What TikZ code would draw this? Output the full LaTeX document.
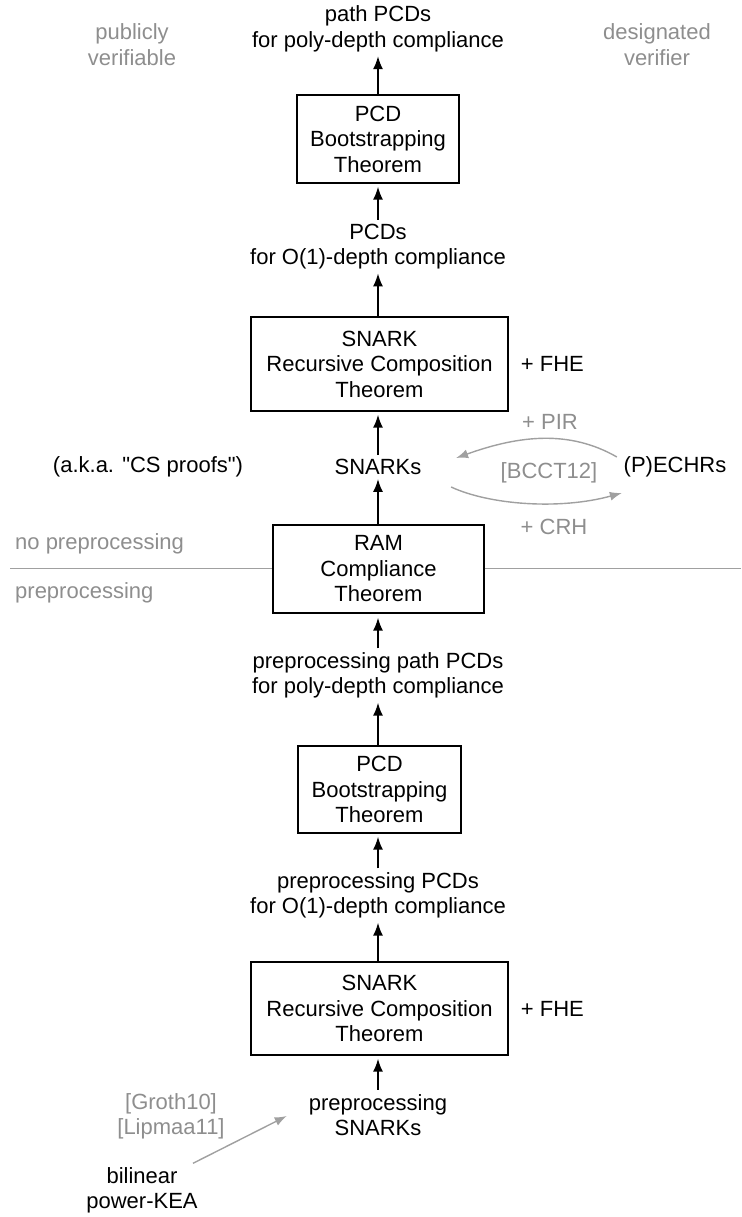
\documentclass[tikz,border=0pt]{standalone}
\usepackage{fontspec}
\setmainfont{Liberation Sans}
\newfontfamily\straightqt{Liberation Sans}
\usetikzlibrary{arrows.meta,positioning}
\definecolor{notegray}{HTML}{8E8E8E}
\definecolor{rulegray}{HTML}{A0A0A0}

\tikzset{
  thm/.style={draw,line width=1.4pt,align=center,inner sep=0pt},
  res/.style={align=center,inner sep=4pt},
  note/.style={align=center,inner sep=4pt,text=notegray},
  up/.style={line width=1.6pt,-{Latex[length=13pt,width=10pt]}},
  gup/.style={line width=1.4pt,draw=rulegray,-{Latex[length=12pt,width=9pt]}}
}

\begin{document}
\begin{tikzpicture}[x=1pt,y=-1pt,font=\fontsize{22}{25.5}\selectfont]
  \useasboundingbox (0,0) rectangle (741,1217);

  % column headings
  \node[note] (pub) at (132,44.5) {publicly\\verifiable};
  \node[note] (desig) at (657,44.5) {designated\\verifier};

  % no preprocessing half
  \node[res] (top) at (378,29) {path PCDs\\for poly-depth compliance};
  \node[thm,minimum width=162pt,minimum height=88pt] (boot) at (378,139)
    {PCD\\Bootstrapping\\Theorem};
  \node[res] (pcd) at (378,246.5) {PCDs\\for O(1)-depth compliance};
  \node[thm,minimum width=257pt,minimum height=94pt] (rec) at (379.5,364)
    {SNARK\\Recursive Composition\\Theorem};
  \node[res,right=8pt of rec] (fhe) {+ FHE};
  \node[res] (snk) at (378,467) {SNARKs};
  \node[res] (cs) at (148,467) {\straightqt (a.k.a. "CS proofs")};
  \node[res] (ech) at (675,467) {(P)ECHRs};
  \node[note] (pir) at (550,422) {+ PIR};
  \node[note] (bcct) at (549,473) {[BCCT12]};
  \node[note] (crh) at (554,527) {+ CRH};

  % dividing line
  \node[thm,minimum width=211pt,minimum height=88pt] (ram) at (378.5,569)
    {RAM\\Compliance\\Theorem};
  \coordinate (lft) at (10,568.5);
  \coordinate (rgt) at (741,568.5);
  \draw[rulegray,line width=1.2pt] (lft) -- (lft -| ram.west);
  \draw[rulegray,line width=1.2pt] (rgt -| ram.east) -- (rgt);
  \node[note,anchor=west] (nopre) at (11,544) {no preprocessing};
  \node[note,anchor=west] (pre) at (11,593) {preprocessing};

  % preprocessing half
  \node[res] (ppath) at (378,675.5) {preprocessing path PCDs\\for poly-depth compliance};
  \node[thm,minimum width=163pt,minimum height=87pt] (boot2) at (379.5,789.5)
    {PCD\\Bootstrapping\\Theorem};
  \node[res] (ppcd) at (378,895.5) {preprocessing PCDs\\for O(1)-depth compliance};
  \node[thm,minimum width=257pt,minimum height=93pt] (rec2) at (379.5,1008.5)
    {SNARK\\Recursive Composition\\Theorem};
  \node[res,right=8pt of rec2] (fhe2) {+ FHE};
  \node[res] (psnk) at (378,1115) {preprocessing\\SNARKs};
  \node[note] (refs) at (171,1116.5) {{[Groth10]}\\{[Lipmaa11]}};
  \node[res] (kea) at (142,1190.5) {bilinear\\power-KEA};

  % black arrows up the column
  \draw[up] (top.south |- boot.north) -- (top.south);
  \draw[up,shorten >=3pt] (pcd.north) -- (pcd.north |- boot.south);
  \draw[up] (pcd.south |- rec.north) -- (pcd.south);
  \draw[up,shorten >=3pt] (snk.north) -- (snk.north |- rec.south);
  \draw[up] (snk.south |- ram.north) -- (snk.south);
  \draw[up,shorten >=4pt] (ppath.north) -- (ppath.north |- ram.south);
  \draw[up] (ppath.south |- boot2.north) -- (ppath.south);
  \draw[up,shorten >=3pt] (ppcd.north) -- (ppcd.north |- boot2.south);
  \draw[up] (ppcd.south |- rec2.north) -- (ppcd.south);
  \draw[up,shorten >=3pt] (psnk.north) -- (psnk.north |- rec2.south);

  % grey arrows
  \draw[gup] ([xshift=-2.6pt,yshift=10pt]ech.west)
    .. controls (570,430) and (520,435) .. ([xshift=30.5pt,yshift=9pt]snk.east);
  \draw[gup] ([xshift=25.5pt,yshift=-20pt]snk.east)
    .. controls (490,505) and (560,510) .. ([xshift=2.4pt,yshift=-26pt]ech.west);
  \draw[gup] ([xshift=51pt]kea.north) -- ([xshift=-18pt,yshift=-1pt]psnk.west);
\end{tikzpicture}
\end{document}
